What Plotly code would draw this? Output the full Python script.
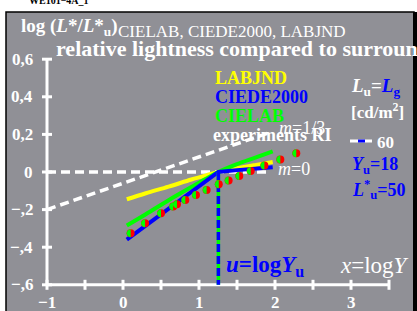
import plotly.graph_objects as go

# ---------------- data ----------------
x_ticks = [-1, -0.5, 0, 0.5, 1, 1.5, 2, 2.5, 3, 3.5]
x_label_vals = [-1, 0, 1, 2, 3]
x_labels = ["\u22121", "0", "1", "2", "3"]
y_ticks = [0.6, 0.4, 0.2, 0, -0.2, -0.4, -0.6]
y_labels = ["0,6", "0,4", "0,2", "0", "\u2212,2", "\u2212,4", "\u2212,6"]

labjnd_x = [0.05, 0.3, 0.6, 0.9, 1.1, 1.255, 1.5, 1.75, 1.97]
labjnd_y = [-0.145, -0.113, -0.078, -0.040, -0.017, 0.0, 0.020, 0.038, 0.053]

cielab_x = [0.05, 0.3, 0.6, 0.9, 1.1, 1.255, 1.5, 1.75, 1.97]
cielab_y = [-0.285, -0.225, -0.150, -0.080, -0.035, 0.0, 0.042, 0.078, 0.110]

ciede_x = [0.05, 0.4, 0.8, 1.1, 1.255, 1.5, 1.75, 1.97]
ciede_y = [-0.360, -0.255, -0.135, -0.045, 0.0, 0.010, 0.018, 0.025]

exp_x = [0.10, 0.29, 0.50, 0.66, 0.71, 0.82, 0.96, 1.10, 1.26, 1.39, 1.53, 1.68, 1.86, 2.07, 2.28]
exp_y = [-0.326, -0.273, -0.220, -0.183, -0.172, -0.149, -0.122, -0.096, -0.065,
         -0.045, -0.021, 0.005, 0.034, 0.067, 0.100]

m0_x = [-1, 1.9]
m0_y = [0, 0]
m13_x = [-1, 1.95]
m13_y = [-0.2, 0.213]

u_log = 1.255          # log Yu, Yu = 18
vert_y = [0, -0.6]

# ---------------- layout helpers ----------------
W, H = 417, 311
X0PX, XSCALE = 123.0, 76.0     # pixel of x=0, pixels per unit
Y0PX, YSCALE = 172.0, 188.0    # pixel of y=0, pixels per unit
xr = [(0 - X0PX) / XSCALE, (W - X0PX) / XSCALE]
yr = [(Y0PX - H) / YSCALE, (Y0PX - 0) / YSCALE]


def px(xp):
    return xp / W


def py(yp):
    return 1 - yp / H


def dx(pix):
    return pix / XSCALE


def dy(pix):
    return pix / YSCALE


SERIF = "Liberation Serif, Times New Roman, serif"
GRAY = "#909096"
BLUE = "#0000ff"
GREEN = "#00ff00"
YELLOW = "#ffff00"
RED = "#ff0000"

fig = go.Figure()

# axes drawn as white lines
fig.add_trace(go.Scatter(x=[x_ticks[0], x_ticks[-1]], y=[y_ticks[-1], y_ticks[-1]],
                         mode="lines", line=dict(color="white", width=3), hoverinfo="skip"))
fig.add_trace(go.Scatter(x=[x_ticks[0], x_ticks[0]], y=[y_ticks[-1], y_ticks[0]],
                         mode="lines", line=dict(color="white", width=3), hoverinfo="skip"))
# x ticks
tx, ty = [], []
for t in x_ticks:
    tx += [t, t, None]
    ty += [y_ticks[-1] - dy(5), y_ticks[-1] + dy(5), None]
fig.add_trace(go.Scatter(x=tx, y=ty, mode="lines", line=dict(color="white", width=3), hoverinfo="skip"))
# y ticks
tx, ty = [], []
for t in y_ticks:
    tx += [x_ticks[0] - dx(5), x_ticks[0] + dx(5), None]
    ty += [t, t, None]
fig.add_trace(go.Scatter(x=tx, y=ty, mode="lines", line=dict(color="white", width=3), hoverinfo="skip"))

# reference dashed lines
fig.add_trace(go.Scatter(x=m0_x, y=m0_y, mode="lines",
                         line=dict(color="white", width=3.5, dash="9px,5px"), hoverinfo="skip"))
fig.add_trace(go.Scatter(x=m13_x, y=m13_y, mode="lines",
                         line=dict(color="white", width=3.5, dash="9px,5px"), hoverinfo="skip"))

# curves
fig.add_trace(go.Scatter(x=labjnd_x, y=labjnd_y, mode="lines", line=dict(color=YELLOW, width=4, shape="spline")))
fig.add_trace(go.Scatter(x=cielab_x, y=cielab_y, mode="lines", line=dict(color=GREEN, width=4, shape="spline")))
fig.add_trace(go.Scatter(x=ciede_x, y=ciede_y, mode="lines", line=dict(color=BLUE, width=4)))

# vertical line at u = log Yu
fig.add_trace(go.Scatter(x=[u_log, u_log], y=vert_y, mode="lines", line=dict(color=GREEN, width=3.5), hoverinfo="skip"))
fig.add_trace(go.Scatter(x=[u_log, u_log], y=vert_y, mode="lines",
                         line=dict(color=BLUE, width=3.5, dash="8px,4px"), hoverinfo="skip"))

# experiment points (red full circle + green left half)
fig.add_trace(go.Scatter(x=exp_x, y=exp_y, mode="markers",
                         marker=dict(color=RED, size=8, line=dict(width=0))))

shapes = []
r, k = 4.0, 0.5523
half = (f"M 0,{-r} C {-k*r},{-r} {-r},{-k*r} {-r},0 "
        f"C {-r},{k*r} {-k*r},{r} 0,{r} Z")
for xv, yv in zip(exp_x, exp_y):
    shapes.append(dict(type="path", xref="x", yref="y", xsizemode="pixel", ysizemode="pixel",
                       xanchor=xv, yanchor=yv, path=half, fillcolor=GREEN,
                       line=dict(width=0), layer="above"))

# legend sample line (white with blue centre)
sx = [(350 - X0PX) / XSCALE, (372 - X0PX) / XSCALE]
sy = [(Y0PX - 141) / YSCALE] * 2
fig.add_trace(go.Scatter(x=sx, y=sy, mode="lines", line=dict(color="white", width=3), hoverinfo="skip"))
fig.add_trace(go.Scatter(x=[(358 - X0PX) / XSCALE, (365 - X0PX) / XSCALE], y=sy, mode="lines",
                         line=dict(color=BLUE, width=3), hoverinfo="skip"))

# background panel and border
shapes = [
    dict(type="rect", xref="paper", yref="paper", x0=px(6), x1=px(414), y0=py(312), y1=py(12),
         fillcolor=GRAY, line=dict(color="black", width=1.5), layer="below"),
    dict(type="rect", xref="paper", yref="paper", x0=px(413), x1=px(417), y0=py(312), y1=py(12),
         fillcolor="black", line=dict(width=0), layer="below"),
] + shapes

ann = []


def A(text, xp, yp, size, color="white", xanchor="left", yanchor="middle"):
    ann.append(dict(text=text, x=px(xp), y=py(yp), xref="paper", yref="paper", showarrow=False,
                    xanchor=xanchor, yanchor=yanchor,
                    font=dict(family=SERIF, size=size, color=color)))


# tick labels (data coordinates)
for v, lab in zip(x_label_vals, x_labels):
    ann.append(dict(text=f"<b>{lab}</b>", x=v, y=y_ticks[-1], xref="x", yref="y", yshift=-18,
                    showarrow=False, xanchor="center", yanchor="middle",
                    font=dict(family=SERIF, size=17, color="white")))
for v, lab in zip(y_ticks, y_labels):
    ann.append(dict(text=f"<b>{lab}</b>", x=x_ticks[0], y=v, xref="x", yref="y", xshift=-12,
                    showarrow=False, xanchor="right", yanchor="middle",
                    font=dict(family=SERIF, size=17, color="white")))

A("<b>WE101\u22124A_1</b>", 27, 1, 10, color="black")
A("<b>log (<i>L</i>*/<i>L</i>*<sub>u</sub>)</b>", 19, 27, 19)
A("CIELAB, CIEDE2000, LABJND", 116, 32, 17)
A("<b>relative lightness compared to surround</b>", 54, 49, 22)

A("<b>LABJND</b>", 213, 78, 18, color=YELLOW)
A("<b>CIEDE2000</b>", 213, 97, 18, color=BLUE)
A("<b>CIELAB</b>", 213, 116, 18, color=GREEN)
A("<b>experiments RI</b>", 211, 135, 18)
A("<i>m</i>=1/3", 277, 128, 18)
A("<i>m</i>=0", 276, 169, 18)

A("<b><i>L</i><sub>u</sub>=<span style='color:#0000ff'><i>L</i><sub>g</sub></span></b>", 349, 87, 19)
A("<b>[cd/m<sup>2</sup>]</b>", 349, 111, 17)
A("<b>60</b>", 375, 142, 17)
A("<b><i>Y</i><sub>u</sub>=18</b>", 350, 165, 18, color=BLUE)
A("<b><i>L</i><sup>*</sup><sub>u</sub>=50</b>", 350, 189, 18, color=BLUE)

A("<b><i>u</i>=log<i>Y</i><sub>u</sub></b>", 224, 266, 23, color=BLUE)
A("<i>x</i>=log<i>Y</i>", 338, 265, 23)

fig.update_layout(
    width=W, height=H, margin=dict(l=0, r=0, t=0, b=0),
    paper_bgcolor="white", plot_bgcolor="rgba(0,0,0,0)",
    showlegend=False,
    xaxis=dict(range=xr, visible=False, fixedrange=True),
    yaxis=dict(range=yr, visible=False, fixedrange=True),
    shapes=shapes, annotations=ann,
)

fig.write_html("out.html", config={"displayModeBar": False},
               post_script="document.body.style.margin='0';document.body.style.overflow='hidden';")
